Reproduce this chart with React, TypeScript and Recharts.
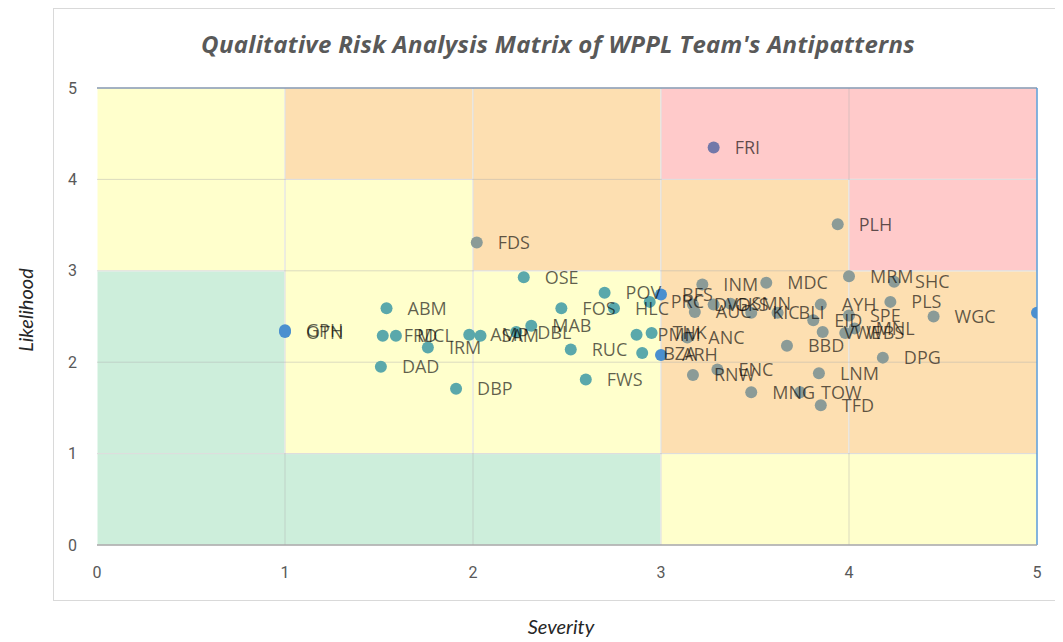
import React from 'react';
import { ScatterChart, Scatter, XAxis, YAxis, ReferenceArea, ReferenceLine } from 'recharts';

// Antipattern codes with severity (x) and likelihood (y)
const codes = ['FRI','PLH','FDS','OSE','MRM','SHC','INM','MDC','POV','BFS','PRC','HLC','FOS','ABM','AYH','PLS','DVD','GKS','SMN','AUC','KIC','BLI','EID','SPE','WGC','PIT','VWE','WBS','MNL','BBD','DPG','LNM','TOW','TFD','MNG','ENC','RNW','ANC','ARH','BZA','THK','PMM','RUC','FWS','MAB','DBL','SAM','AMP','IRM','MCL','FRD','DAD','DBP','GPH','OTN'];
const severity = [3.28,3.94,2.02,2.27,4.0,4.24,3.22,3.56,2.7,3.0,2.94,2.75,2.47,1.54,3.85,4.22,3.17,3.28,3.37,3.18,3.48,3.62,3.81,4.0,4.45,5.0,3.86,3.98,4.03,3.67,4.18,3.84,3.74,3.85,3.48,3.3,3.17,3.14,3.0,2.9,2.95,2.87,2.52,2.6,2.31,2.23,2.04,1.98,1.76,1.59,1.52,1.51,1.91,1.0,1.0];
const likelihood = [4.35,3.51,3.31,2.93,2.94,2.88,2.85,2.87,2.76,2.74,2.66,2.59,2.59,2.59,2.63,2.66,2.63,2.63,2.64,2.55,2.54,2.54,2.46,2.51,2.5,2.54,2.33,2.32,2.37,2.18,2.05,1.88,1.67,1.53,1.67,1.92,1.86,2.27,2.08,2.1,2.32,2.3,2.14,1.81,2.4,2.33,2.29,2.3,2.16,2.29,2.29,1.95,1.71,2.35,2.33];

const axisTicks = [0, 1, 2, 3, 4, 5];
const gridValues = [1, 2, 3, 4];
const edgeSeverities = [1, 3, 5];

// Risk zones in data units: [x1, x2, y1, y2]
const greenZones = [[0, 1, 1, 3], [0, 3, 0, 1]];
const yellowZones = [[0, 1, 3, 5], [1, 2, 1, 4], [2, 3, 1, 3], [3, 5, 0, 1]];
const orangeZones = [[1, 2, 4, 5], [2, 3, 3, 5], [3, 4, 1, 4], [4, 5, 1, 3]];
const redZones = [[3, 5, 4, 5], [4, 5, 3, 4]];

const ZONE_FILL: Record<string, string> = {
  green: '#cdeedb',
  yellow: '#ffffcc',
  orange: '#fddfb1',
  red: '#ffcaca',
};
const DOT_FILL: Record<string, string> = {
  green: '#5aa8ab',
  yellow: '#5aa8ab',
  orange: '#8b9b97',
  red: '#7378a9',
  edge: '#4b8fcf',
};

const zoneGroups: [string, number[][]][] = [
  ['green', greenZones],
  ['yellow', yellowZones],
  ['orange', orangeZones],
  ['red', redZones],
];

const points = codes.map((code, i) => ({ code, x: severity[i], y: likelihood[i] }));

function dotColor(p: { x: number; y: number }) {
  if (edgeSeverities.includes(p.x)) return DOT_FILL.edge;
  for (const [level, list] of zoneGroups) {
    for (const [x1, x2, y1, y2] of list) {
      if (p.x >= x1 && p.x < x2 && p.y >= y1 && p.y < y2) return DOT_FILL[level];
    }
  }
  return DOT_FILL.yellow;
}

const Dot = (props: any) => {
  const { cx, cy, payload } = props;
  if (cx == null || cy == null) return null;
  return <circle cx={cx} cy={cy} r={6} fill={dotColor(payload)} />;
};

const Tag = (props: any) => {
  const { cx, cy, payload } = props;
  if (cx == null || cy == null) return null;
  return (
    <text
      x={cx + 21}
      y={cy}
      dy="0.36em"
      fontFamily="'Open Sans', sans-serif"
      fontSize={18}
      fill="#000"
      fillOpacity={0.63}
    >
      {payload.code}
    </text>
  );
};

export default function App() {
  return (
    <div style={{ position: 'relative', width: 1055, height: 634, fontFamily: 'Lato, sans-serif' }}>
      <style>{`body{overflow:hidden}`}</style>
      <div
        style={{
          position: 'absolute',
          left: 45,
          top: 0,
          width: 1020,
          height: 593,
          borderLeft: '1px solid #d9d9d9',
          borderTop: '1px solid #d9d9d9',
          borderBottom: '1px solid #d9d9d9',
          boxSizing: 'border-box',
        }}
      />
      <div
        style={{
          position: 'absolute',
          left: 45,
          width: 1010,
          top: 19,
          textAlign: 'center',
          fontFamily: "'Open Sans', sans-serif",
          fontStyle: 'italic',
          fontWeight: 700,
          fontSize: 24,
          letterSpacing: 0.3,
          color: '#595959',
        }}
      >
        Qualitative Risk Analysis Matrix of WPPL Team's Antipatterns
      </div>
      <div
        style={{
          position: 'absolute',
          left: 0,
          width: 1106,
          top: 606,
          textAlign: 'center',
          fontStyle: 'italic',
          fontSize: 20,
          lineHeight: '24px',
          color: '#262626',
        }}
      >
        Severity
      </div>
      <div
        style={{
          position: 'absolute',
          left: 17,
          top: 302,
          transform: 'translate(-50%, -50%) rotate(-90deg)',
          fontStyle: 'italic',
          fontSize: 20,
          color: '#262626',
          whiteSpace: 'nowrap',
        }}
      >
        Likelihood
      </div>
      <div style={{ position: 'absolute', left: 0, top: 0 }}>
        <ScatterChart width={1055} height={626} margin={{ top: 80, right: 26, left: 49, bottom: 59 }}>
          <XAxis
            type="number"
            dataKey="x"
            domain={[0, 5]}
            ticks={axisTicks}
            allowDataOverflow
            height={30}
            tickLine={false}
            tickMargin={16}
            axisLine={{ stroke: '#a6a6a6', strokeWidth: 1.5 }}
            tick={{ fill: '#595959', fontSize: 16, fontFamily: 'Roboto, sans-serif' }}
          />
          <YAxis
            type="number"
            dataKey="y"
            domain={[0, 5]}
            ticks={axisTicks}
            allowDataOverflow
            width={40}
            tickLine={false}
            tickMargin={14}
            axisLine={false}
            tick={{ fill: '#595959', fontSize: 16, fontFamily: 'Roboto, sans-serif' }}
          />
          {zoneGroups.map(([level, list]) =>
            list.map(([x1, x2, y1, y2], i) => (
              <ReferenceArea
                key={`${level}-${i}`}
                x1={x1}
                x2={x2}
                y1={y1}
                y2={y2}
                fill={ZONE_FILL[level]}
                fillOpacity={1}
                stroke="#ffffff"
                strokeWidth={1}
              />
            ))
          )}
          {gridValues.map((v) => (
            <ReferenceLine key={`gx${v}`} x={v} stroke="#b0b0b0" strokeOpacity={0.45} />
          ))}
          {gridValues.map((v) => (
            <ReferenceLine key={`gy${v}`} y={v} stroke="#b0b0b0" strokeOpacity={0.45} />
          ))}
          <ReferenceLine y={5} stroke="#8497b0" strokeWidth={1.5} />
          <ReferenceLine x={5} stroke="#5b9bd5" strokeWidth={1.5} />
          <Scatter data={points} shape={Dot} isAnimationActive={false} />
          <Scatter data={points} shape={Tag} isAnimationActive={false} />
        </ScatterChart>
      </div>
    </div>
  );
}
